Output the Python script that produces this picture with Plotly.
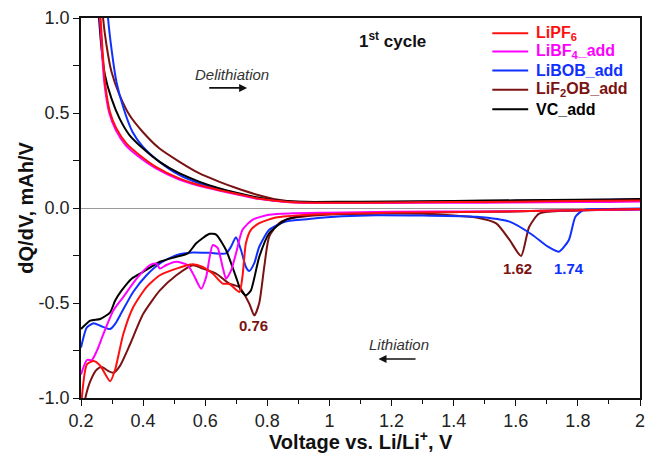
import plotly.graph_objects as go

# ---------------- data ----------------
series_names = ["LiPF<sub>6</sub>", "LiBF<sub>4</sub>_add", "LiBOB_add", "LiF<sub>2</sub>OB_add", "VC_add"]
series_colors = ["#ff1010", "#ff00ff", "#1030ff", "#7a1212", "#000000"]

# Delithiation branches (positive dQ/dV)
red_deli_v = [0.255, 0.263, 0.269, 0.277, 0.293, 0.314, 0.346, 0.388, 0.441, 0.516, 0.58, 0.644, 0.70, 0.77, 0.82, 0.87, 0.95, 1.1, 1.3, 1.5, 1.7, 1.9, 2.0]
red_deli_y = [1.2, 1.0, 0.84, 0.665, 0.507, 0.419, 0.34, 0.279, 0.217, 0.156, 0.121, 0.095, 0.075, 0.05, 0.04, 0.032, 0.028, 0.028, 0.03, 0.032, 0.035, 0.038, 0.04]
mag_deli_v = [0.253, 0.261, 0.267, 0.275, 0.291, 0.312, 0.344, 0.386, 0.44, 0.516, 0.58, 0.644, 0.70, 0.77, 0.82, 0.87, 0.95, 1.1, 1.3, 1.5, 1.7, 1.9, 2.0]
mag_deli_y = [1.2, 1.0, 0.84, 0.66, 0.5, 0.41, 0.33, 0.27, 0.21, 0.15, 0.117, 0.092, 0.072, 0.048, 0.038, 0.03, 0.026, 0.026, 0.027, 0.028, 0.03, 0.032, 0.034]
blue_deli_v = [0.279, 0.287, 0.298, 0.314, 0.337, 0.366, 0.399, 0.452, 0.516, 0.58, 0.644, 0.70, 0.77, 0.82, 0.87, 0.95, 1.1, 1.3, 1.5, 1.7, 1.9, 2.0]
blue_deli_y = [1.2, 1.0, 0.84, 0.665, 0.525, 0.40, 0.323, 0.244, 0.174, 0.13, 0.10, 0.078, 0.052, 0.04, 0.033, 0.03, 0.03, 0.033, 0.036, 0.04, 0.044, 0.046]
brown_deli_v = [0.263, 0.271, 0.282, 0.298, 0.324, 0.356, 0.399, 0.452, 0.516, 0.58, 0.644, 0.70, 0.77, 0.82, 0.87, 0.95, 1.1, 1.3, 1.5, 1.7, 1.9, 2.0]
brown_deli_y = [1.2, 1.0, 0.858, 0.718, 0.595, 0.489, 0.40, 0.314, 0.244, 0.183, 0.139, 0.105, 0.068, 0.048, 0.036, 0.03, 0.03, 0.032, 0.034, 0.037, 0.04, 0.042]
black_deli_v = [0.25, 0.258, 0.266, 0.277, 0.298, 0.324, 0.356, 0.399, 0.452, 0.516, 0.58, 0.644, 0.70, 0.77, 0.82, 0.87, 0.95, 1.1, 1.3, 1.5, 1.7, 1.9, 2.0]
black_deli_y = [1.2, 1.0, 0.84, 0.70, 0.577, 0.472, 0.384, 0.314, 0.244, 0.183, 0.139, 0.104, 0.08, 0.055, 0.042, 0.035, 0.032, 0.033, 0.036, 0.039, 0.042, 0.045, 0.047]

# Lithiation branches (negative dQ/dV)
red_lith_v = [0.2, 0.219, 0.241, 0.262, 0.294, 0.310, 0.336, 0.368, 0.411, 0.454, 0.507, 0.560, 0.592, 0.624, 0.656, 0.678, 0.710, 0.720, 0.731, 0.747, 0.774, 0.827, 0.933, 1.04, 1.2, 1.5, 1.8, 2.0]
red_lith_y = [-1.05, -0.823, -0.805, -0.83, -0.912, -0.85, -0.664, -0.522, -0.416, -0.354, -0.319, -0.296, -0.31, -0.345, -0.398, -0.40, -0.442, -0.36, -0.186, -0.115, -0.08, -0.05, -0.035, -0.03, -0.025, -0.02, -0.012, -0.005]
mag_lith_v = [0.2, 0.219, 0.235, 0.251, 0.272, 0.304, 0.336, 0.379, 0.422, 0.443, 0.454, 0.475, 0.507, 0.544, 0.566, 0.587, 0.603, 0.624, 0.640, 0.656, 0.667, 0.683, 0.699, 0.720, 0.752, 0.806, 0.880, 0.987, 1.2, 1.5, 1.8, 2.0]
mag_lith_y = [-0.876, -0.80, -0.80, -0.752, -0.664, -0.54, -0.469, -0.372, -0.30, -0.292, -0.319, -0.30, -0.283, -0.301, -0.363, -0.425, -0.363, -0.195, -0.21, -0.31, -0.372, -0.33, -0.24, -0.115, -0.062, -0.035, -0.028, -0.025, -0.02, -0.018, -0.012, -0.008]
blue_lith_v = [0.2, 0.219, 0.241, 0.262, 0.294, 0.310, 0.331, 0.368, 0.411, 0.454, 0.507, 0.560, 0.614, 0.667, 0.683, 0.699, 0.715, 0.731, 0.742, 0.758, 0.774, 0.806, 0.859, 0.933, 1.04, 1.15, 1.3, 1.473, 1.58, 1.654, 1.70, 1.739, 1.771, 1.792, 1.819, 1.9, 2.0]
blue_lith_y = [-0.735, -0.628, -0.607, -0.62, -0.637, -0.61, -0.549, -0.442, -0.354, -0.292, -0.248, -0.234, -0.236, -0.239, -0.204, -0.154, -0.22, -0.31, -0.331, -0.29, -0.204, -0.115, -0.071, -0.058, -0.044, -0.038, -0.04, -0.046, -0.072, -0.142, -0.2, -0.23, -0.168, -0.046, -0.01, -0.005, -0.003]
brown_lith_v = [0.205, 0.214, 0.230, 0.251, 0.267, 0.288, 0.304, 0.325, 0.358, 0.400, 0.454, 0.507, 0.560, 0.592, 0.635, 0.678, 0.710, 0.742, 0.758, 0.774, 0.790, 0.806, 0.838, 0.880, 0.987, 1.093, 1.3, 1.473, 1.537, 1.58, 1.617, 1.643, 1.675, 1.75, 1.9, 2.0]
brown_lith_y = [-1.1, -1.0, -0.911, -0.85, -0.837, -0.858, -0.867, -0.832, -0.717, -0.558, -0.434, -0.354, -0.301, -0.319, -0.345, -0.398, -0.416, -0.504, -0.566, -0.50, -0.31, -0.15, -0.08, -0.053, -0.035, -0.03, -0.03, -0.05, -0.081, -0.168, -0.253, -0.10, -0.03, -0.015, -0.008, -0.005]
black_lith_v = [0.2, 0.230, 0.262, 0.294, 0.310, 0.331, 0.363, 0.400, 0.454, 0.507, 0.544, 0.571, 0.614, 0.635, 0.667, 0.699, 0.715, 0.731, 0.747, 0.774, 0.806, 0.859, 0.933, 1.04, 1.2, 1.5, 1.8, 2.0]
black_lith_y = [-0.637, -0.593, -0.584, -0.549, -0.487, -0.434, -0.372, -0.336, -0.283, -0.257, -0.239, -0.186, -0.136, -0.14, -0.221, -0.363, -0.434, -0.46, -0.434, -0.257, -0.133, -0.062, -0.035, -0.03, -0.025, -0.02, -0.012, -0.008]

deli_v = [red_deli_v, mag_deli_v, blue_deli_v, brown_deli_v, black_deli_v]
deli_y = [red_deli_y, mag_deli_y, blue_deli_y, brown_deli_y, black_deli_y]
lith_v = [red_lith_v, mag_lith_v, blue_lith_v, brown_lith_v, black_lith_v]
lith_y = [red_lith_y, mag_lith_y, blue_lith_y, brown_lith_y, black_lith_y]

x_tick_vals = [0.2, 0.4, 0.6, 0.8, 1.0, 1.2, 1.4, 1.6, 1.8, 2.0]
x_tick_text = ["0.2", "0.4", "0.6", "0.8", "1", "1.2", "1.4", "1.6", "1.8", "2"]
y_tick_vals = [-1.0, -0.5, 0.0, 0.5, 1.0]
y_tick_text = ["-1.0", "-0.5", "0.0", "0.5", "1.0"]

peak_labels = ["0.76", "1.62", "1.74"]
peak_x = [0.755, 1.604, 1.77]
peak_y = [-0.616, -0.316, -0.316]
peak_colors = ["#7a1212", "#7a1212", "#1030ff"]

FONT = "Liberation Sans, Arial, sans-serif"

fig = go.Figure()
order = [3, 2, 4, 1, 0]
for i in order:
    xs = list(lith_v[i]) + [None] + list(deli_v[i])
    ys = list(lith_y[i]) + [None] + list(deli_y[i])
    c = series_colors[i]
    fig.add_trace(go.Scatter(
        x=xs, y=ys, mode="lines", connectgaps=False,
        line=dict(color=c, width=2, shape="spline", smoothing=0.6),
        name=series_names[i], showlegend=False,
    ))

# ----- legend drawn as line samples + coloured bold labels (paper coords) -----
leg_x0, leg_x1, leg_tx = 0.7358, 0.800, 0.8103
leg_rows = [0.960, 0.912, 0.862, 0.811, 0.760]
shapes = []
annotations = []
for i, yy in enumerate(leg_rows):
    c = series_colors[i]
    shapes.append(dict(type="line", xref="paper", yref="paper", x0=leg_x0, x1=leg_x1,
                       y0=yy, y1=yy, line=dict(color=c, width=2)))
    annotations.append(dict(x=leg_tx, y=yy, xref="paper", yref="paper", xanchor="left",
                            yanchor="middle", text=f"<b>{series_names[i]}</b>", showarrow=False,
                            font=dict(family=FONT, size=16, color=c)))

for t, x, y, c in zip(peak_labels, peak_x, peak_y, peak_colors):
    annotations.append(dict(x=x, y=y, xref="x", yref="y", text=f"<b>{t}</b>",
                            showarrow=False, font=dict(family=FONT, size=15, color=c)))
annotations += [
    dict(x=1.202, y=0.884, xref="x", yref="y", text="<b>1<sup>st</sup> cycle</b>",
         showarrow=False, font=dict(family=FONT, size=17, color="#111")),
    dict(x=0.685, y=0.705, xref="x", yref="y", text="<i>Delithiation</i>",
         showarrow=False, font=dict(family=FONT, size=15, color="#333")),
    dict(x=1.224, y=-0.716, xref="x", yref="y", text="<i>Lithiation</i>",
         showarrow=False, font=dict(family=FONT, size=15, color="#333")),
    dict(x=0.735, y=0.632, ax=0.608, ay=0.632, xref="x", yref="y", axref="x", ayref="y",
         text="", showarrow=True, arrowhead=2, arrowsize=1, arrowwidth=1.6, arrowcolor="#111"),
    dict(x=1.158, y=-0.795, ax=1.282, ay=-0.795, xref="x", yref="y", axref="x", ayref="y",
         text="", showarrow=True, arrowhead=2, arrowsize=1, arrowwidth=1.6, arrowcolor="#111"),
    # axis titles
    dict(x=0.5, y=-0.113, xref="paper", yref="paper", xanchor="center", yanchor="middle",
         text="<b>Voltage vs. Li/Li<sup>+</sup>, V</b>", showarrow=False,
         font=dict(family=FONT, size=20, color="#111")),
    dict(x=-0.099, y=0.5, xref="paper", yref="paper", xanchor="center", yanchor="middle",
         text="<b>dQ/dV, mAh/V</b>", showarrow=False, textangle=-90,
         font=dict(family=FONT, size=20, color="#111")),
]

fig.update_layout(
    width=651, height=458,
    margin=dict(l=81, r=6, t=18, b=60),
    paper_bgcolor="white", plot_bgcolor="white",
    font=dict(family=FONT, size=18, color="#222"),
    showlegend=False,
    annotations=annotations,
    shapes=shapes,
)
fig.update_xaxes(
    range=[0.2, 2.0], tickvals=x_tick_vals, ticktext=x_tick_text,
    showline=True, linecolor="#111", linewidth=1.5, mirror=True,
    ticks="outside", ticklen=6, tickwidth=1.2, tickcolor="#111",
    minor=dict(ticks="outside", dtick=0.1, ticklen=4, tickwidth=1.2, tickcolor="#111"),
    showgrid=False, zeroline=False,
    tickfont=dict(family=FONT, size=18, color="#222"),
)
fig.update_yaxes(
    range=[-1.0, 1.0], tickvals=y_tick_vals, ticktext=y_tick_text,
    showline=True, linecolor="#111", linewidth=1.5, mirror=True,
    ticks="outside", ticklen=6, tickwidth=1.2, tickcolor="#111",
    minor=dict(ticks="outside", tickvals=[-0.75, -0.25, 0.25, 0.75], ticklen=6, tickwidth=1.2, tickcolor="#111"),
    showgrid=False, zeroline=True, zerolinecolor="#9a9a9a", zerolinewidth=1,
    tickfont=dict(family=FONT, size=18, color="#222"),
)

fig.write_html("out.html")
